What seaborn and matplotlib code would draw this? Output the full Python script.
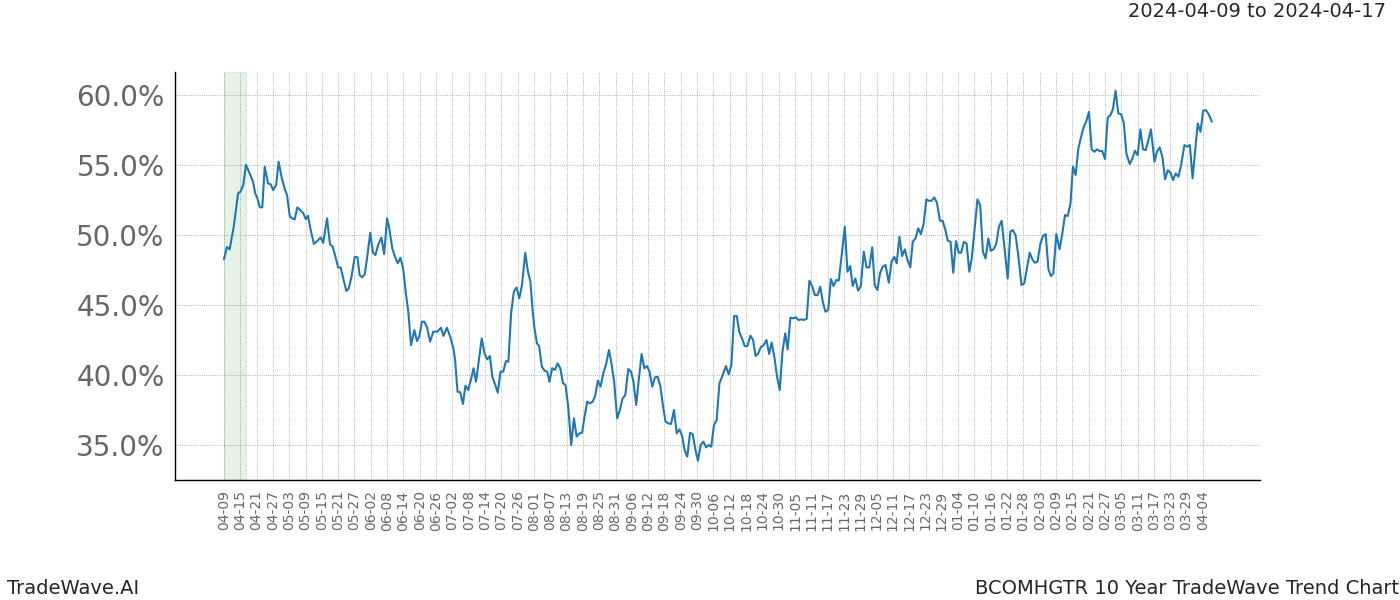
import numpy as np
import pandas as pd
import matplotlib
matplotlib.use("Agg")
import matplotlib.pyplot as plt
import matplotlib.dates as mdates
from matplotlib.ticker import PercentFormatter
import seaborn as sns

start_date = "2024-04-09"
highlight_start = "2024-04-09"
highlight_end = "2024-04-17"
title_right = "2024-04-09 to 2024-04-17"
footer_left = "TradeWave.AI"
footer_right = "BCOMHGTR 10 Year TradeWave Trend Chart"

# day offsets from start_date
day_offset = [
    0, 1.1, 2.1, 3.6, 5.2, 6.1, 7.1, 8.1, 9.7, 10.7, 11.5, 12.3, 13.2, 14.1, 15.0, 16.2, 17.2, 18.1, 19.2, 20.1,
    21.3, 22.3, 23.2, 24.2, 25.0, 26.0, 27.0, 28.2, 29.2, 30.1, 30.9, 31.9, 33.1, 34.3, 35.6, 36.5, 37.9, 39.0,
    40.0, 41.0, 42.0, 42.9, 43.9, 45.0, 45.9, 46.9, 48.1, 49.1, 49.9, 50.8, 51.8, 52.7, 53.8, 54.8, 55.7, 56.7,
    57.9, 58.9, 60.0,
    60.7, 61.9, 62.9, 63.9, 64.9, 65.9, 66.9, 67.8, 68.8, 70.0, 71.0, 71.9, 72.8, 73.7, 74.7, 75.8, 77.0, 78.5,
    79.8, 80.7, 82.0, 83.2, 84.4, 85.0, 85.9, 86.9, 87.9, 88.8, 89.8, 90.8, 91.8, 92.7, 93.9, 94.8, 95.8, 96.8,
    97.8, 98.7, 99.7, 100.7, 101.7, 102.7, 103.7, 104.6, 105.6, 106.6, 107.6, 108.6, 109.6, 110.8, 111.8, 112.7,
    113.5, 114.2, 115.1, 115.9, 116.9, 117.9, 118.9, 119.7, 120.7,
    121.7, 122.7, 123.7, 124.7, 125.6, 126.6, 127.7, 128.7, 129.7, 130.7, 131.7, 132.6, 133.6, 134.6, 135.6,
    136.5, 137.5, 138.5, 139.5, 140.6, 141.6, 142.5, 143.5, 144.6, 145.6, 146.6, 147.6, 148.7, 149.7, 150.6,
    151.6, 152.6, 153.6, 154.6, 155.6, 156.5, 157.5, 158.5, 159.5, 160.5, 161.5, 162.4, 163.4, 164.4, 165.5,
    166.5, 167.5, 168.5, 169.4, 170.4, 171.4, 172.4, 173.4, 174.3, 175.3, 176.3, 177.3, 178.2, 179.2, 180.2,
    181.2, 182.2,
    183.2, 184.6, 185.6, 186.6, 187.6, 188.6, 189.5, 190.5, 191.5, 192.5, 193.6, 194.6, 195.5, 196.5, 197.5,
    198.5, 199.5, 200.5, 201.4, 202.4, 203.4, 204.4, 205.4, 206.4, 207.3, 208.3, 209.3, 210.3, 211.3, 212.3,
    213.2, 214.3, 215.3, 216.3, 217.3, 218.3, 219.3, 220.2, 221.2, 222.2, 223.2, 224.2, 225.2, 226.1, 227.1,
    228.3, 229.3, 230.3, 231.2, 232.2, 233.2, 234.2, 235.3, 236.3, 237.3, 238.4, 239.3, 240.3, 241.3, 242.3,
    243.3,
    244.5, 245.5, 246.5, 247.4, 248.4, 249.4, 250.4, 251.4, 252.4, 253.3, 254.3, 255.3, 256.3, 257.3, 258.3,
    259.2, 260.2, 261.2, 262.2, 263.3, 264.3, 265.3, 266.2, 267.2, 268.2, 269.2, 270.2, 271.1, 272.1, 273.1,
    274.1, 275.0, 276.0, 277.1, 278.1, 279.1, 280.1, 281.1, 282.0, 283.0, 284.0, 285.0, 286.0, 287.0, 288.2,
    289.2, 290.1, 291.1, 292.1, 293.3, 294.3, 295.3, 296.3, 297.3, 298.2, 299.2, 300.2, 301.2, 302.2, 303.2,
    304.1, 305.0,
    306.1, 307.3, 308.3, 309.3, 310.3, 311.3, 312.2, 313.2, 314.2, 315.2, 316.2, 317.2, 318.1, 319.1, 320.1,
    321.1, 322.1, 323.0, 324.0, 325.0, 326.0, 326.9, 327.9, 328.9, 329.9, 330.9, 331.9, 333.1, 334.1, 335.0,
    336.0, 337.0, 338.0, 339.0, 340.0, 340.9, 342.2, 343.1, 344.1, 345.1, 346.1, 347.1, 348.1, 349.0, 350.0,
    351.0, 352.0, 353.2, 354.2, 355.2, 356.2, 357.1, 358.1, 359.1, 360.1, 361.1, 362.1, 363.3,
]

trend_pct = [
    48.26, 49.14, 48.98, 50.6, 52.98, 53.1, 53.57, 55.02, 54.29, 53.8, 52.98, 52.62, 51.98, 51.98, 54.88, 53.69,
    53.62, 53.21, 53.57, 55.24, 54.05, 53.33, 52.86, 51.36, 51.19, 51.12, 51.98, 51.74, 51.55, 51.14, 51.38,
    50.36, 49.36, 49.57, 49.83, 49.45, 51.19, 49.33, 49.17, 48.45, 47.69, 47.69, 46.9, 46.0, 46.19, 47.02,
    48.45, 48.4, 47.14, 46.98, 47.21, 48.45, 50.17, 48.74, 48.57, 49.29, 49.83, 48.64, 51.19,
    50.6, 49.05, 48.45, 47.98, 48.38, 47.62, 45.83, 44.52, 42.14, 43.21, 42.43, 42.79, 43.81, 43.81, 43.4,
    42.38, 43.1, 43.1, 43.38, 42.79, 43.38, 42.74, 41.9, 41.07, 38.81, 38.76, 37.93, 39.24, 38.93, 39.64, 40.48,
    39.52, 41.31, 42.62, 41.55, 41.12, 41.36, 39.88, 39.33, 38.74, 40.24, 40.24, 41.0, 40.95, 44.4, 45.95,
    46.26, 45.48, 46.43, 48.74, 47.38, 46.67, 44.64, 43.33, 42.26, 42.07, 40.6, 40.31, 40.24, 39.52, 40.48,
    40.36, 40.83, 40.48, 39.4, 39.29, 37.74, 35.0, 36.9, 35.6, 35.83, 35.88, 37.02, 38.1, 37.98, 38.1, 38.5,
    39.6, 39.17, 40.12, 40.83, 41.79, 40.83, 39.52, 36.9, 37.5, 38.33, 38.57, 40.43, 40.24, 39.52, 37.86,
    39.76, 41.5, 40.48, 40.64, 40.24, 39.17, 39.83, 39.88, 39.17, 37.74, 36.67, 36.55, 36.5, 37.5, 35.83,
    36.12, 35.64, 34.64, 34.17, 35.88, 35.76, 34.64, 33.88, 35.0, 35.24, 34.83, 35.0, 34.88, 36.43, 36.79,
    39.4,
    39.88, 40.64, 40.05, 40.71, 44.21, 44.21, 43.1, 42.62, 42.07, 42.07, 42.81, 42.5, 41.36, 41.55, 42.02,
    42.14, 42.5, 41.5, 42.33, 41.31, 39.88, 38.93, 41.67, 42.98, 41.83, 44.1, 44.05, 44.12, 43.93, 43.98,
    43.93, 44.02, 46.74, 46.36, 45.71, 45.71, 46.31, 45.24, 44.52, 44.64, 46.86, 46.36, 46.79, 46.74, 48.45,
    50.6, 47.38, 47.79, 46.36, 46.9, 46.02, 46.36, 48.81, 47.69, 47.69, 49.12, 46.43, 46.07, 47.31, 47.74,
    47.86,
    46.6, 48.1, 48.45, 47.98, 49.88, 48.5, 48.98, 48.21, 47.69, 49.52, 49.76, 50.48, 50.07, 50.79, 52.55,
    52.45, 52.45, 52.69, 52.31, 51.02, 51.02, 50.36, 49.6, 49.52, 47.31, 49.57, 48.74, 48.74, 49.52, 49.4,
    47.38, 48.33, 50.36, 52.55, 52.14, 48.81, 48.33, 49.76, 48.88, 48.98, 49.36, 50.6, 51.02, 49.17, 46.9,
    50.24, 50.36, 50.0, 48.57, 46.43, 46.55, 47.62, 48.74, 48.26, 48.02, 48.1, 49.36, 49.93, 50.07, 47.55,
    47.07, 47.26,
    50.07, 48.98, 50.12, 51.43, 51.36, 52.26, 54.88, 54.29, 56.19, 57.02, 57.74, 58.17, 58.81, 56.12, 55.95,
    56.12, 56.0, 56.0, 55.43, 58.4, 58.57, 58.98, 60.31, 58.69, 58.64, 58.02, 55.79, 55.07, 55.48, 56.02,
    55.71, 57.55, 56.12, 56.07, 56.83, 57.55, 55.24, 55.95, 56.26, 55.6, 53.98, 54.64, 54.45, 53.93, 54.4,
    54.17, 55.0, 56.43, 56.31, 56.43, 54.05, 55.95, 57.98, 57.38, 58.88, 58.93, 58.64, 58.1,
]

y_ticks = [35, 40, 45, 50, 55, 60]

df = pd.DataFrame({
    "date": pd.Timestamp(start_date) + pd.to_timedelta(day_offset, unit="D"),
    "value": trend_pct,
})

sns.set_style("white")
plt.rcParams["font.family"] = ["DejaVu Sans"]

fig, ax = plt.subplots(figsize=(14, 6), dpi=100)
fig.subplots_adjust(left=0.125, right=0.9, top=0.88, bottom=0.2)

ax.axvspan(pd.Timestamp(highlight_start), pd.Timestamp(highlight_end), color="green", alpha=0.1)
sns.lineplot(data=df, x="date", y="value", ax=ax, color="#1f77b4", linewidth=1.5)

xticks = pd.date_range(start_date, "2025-04-08", freq="6D")
ax.set_xticks(xticks)
ax.xaxis.set_major_formatter(mdates.DateFormatter("%m-%d"))
ax.set_xlim(pd.Timestamp("2024-03-22"), pd.Timestamp("2025-04-25"))
ax.set_ylim(32.5, 61.65)
ax.set_yticks(y_ticks)
ax.yaxis.set_major_formatter(PercentFormatter(100, decimals=1))

ax.tick_params(axis="x", labelsize=10, labelcolor="#666666", rotation=90, length=4, color="black")
ax.tick_params(axis="y", labelsize=20, labelcolor="#666666", length=4, color="black")
ax.grid(True, color="gray", linestyle=":", linewidth=0.6, alpha=0.8)
ax.set_xlabel("")
ax.set_ylabel("")
for s in ["top", "right"]:
    ax.spines[s].set_visible(False)
for s in ["left", "bottom"]:
    ax.spines[s].set_color("black")
    ax.spines[s].set_linewidth(1.0)

fig.text(0.99, 0.997, title_right, ha="right", va="top", fontsize=14)
fig.text(0.005, 0.003, footer_left, ha="left", va="bottom", fontsize=14)
fig.text(0.9995, 0.003, footer_right, ha="right", va="bottom", fontsize=14)

fig.savefig("out.png", dpi=100)
